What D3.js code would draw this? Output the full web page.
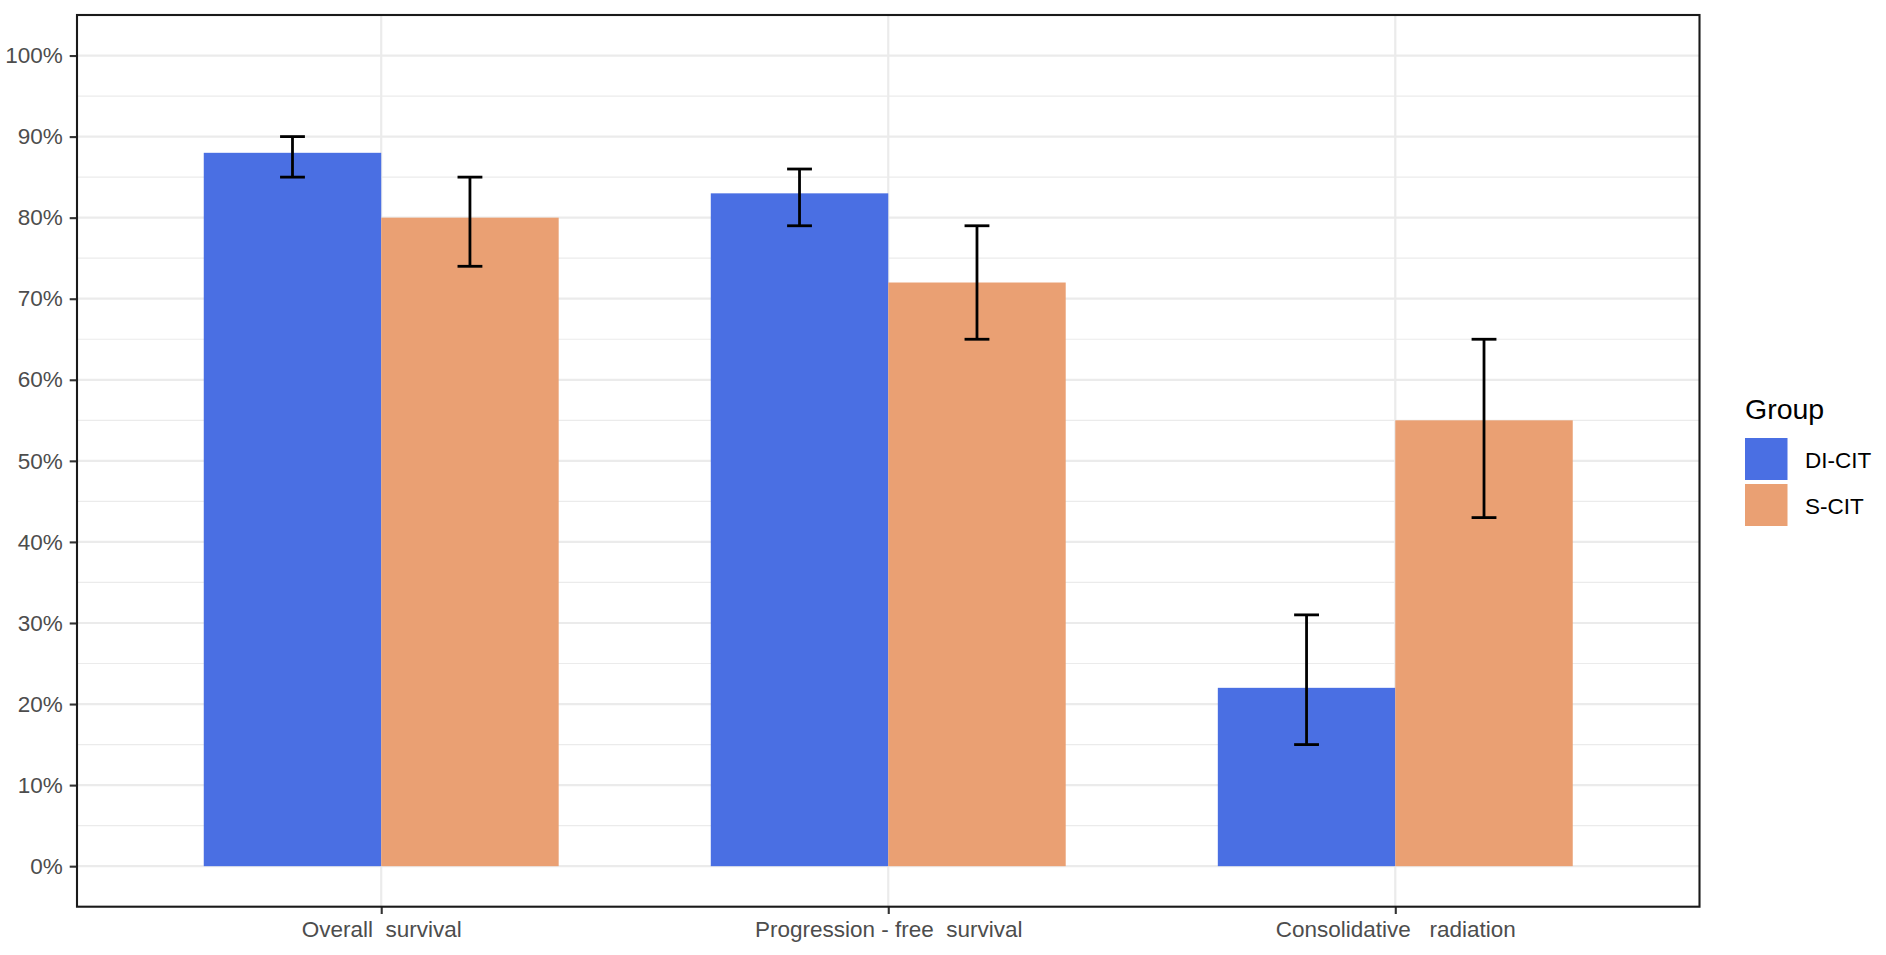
<!DOCTYPE html>
<html>
<head>
    <meta charset="utf-8">
    <title>Group comparison</title>
    <script src="https://cdnjs.cloudflare.com/ajax/libs/d3/7.8.5/d3.min.js"></script>
    <style>
        body {
            margin: 0;
            background: white;
            font-family: "Liberation Sans", Arial, sans-serif;
        }
        text { white-space: pre; }
    </style>
</head>
<body>
    <svg id="chart" width="1886" height="955"></svg>

    <script>
        // Datos
        const categories = ["Overall survival", "Progression-free survival", "Consolidative radiation"];
        const categoryLabels = ["Overall  survival", "Progression - free  survival", "Consolidative   radiation"];
        const groups = ["DI-CIT", "S-CIT"];
        const groupColors = ["#4A6FE3", "#EAA073"];
        const diCitValues = [88, 83, 22];
        const diCitLower = [85, 79, 15];
        const diCitUpper = [90, 86, 31];
        const sCitValues = [80, 72, 55];
        const sCitLower = [74, 65, 43];
        const sCitUpper = [85, 79, 65];
        const yTicks = [0, 10, 20, 30, 40, 50, 60, 70, 80, 90, 100];
        const yMinorTicks = [5, 15, 25, 35, 45, 55, 65, 75, 85, 95];

        const rows = [];
        categories.forEach((c, i) => {
            rows.push({cat: c, group: groups[0], value: diCitValues[i], lo: diCitLower[i], hi: diCitUpper[i]});
            rows.push({cat: c, group: groups[1], value: sCitValues[i], lo: sCitLower[i], hi: sCitUpper[i]});
        });

        const svg = d3.select("#chart");
        const panel = {left: 77, right: 1699.5, top: 15, bottom: 906.7};

        const x = d3.scalePoint()
            .domain(categories)
            .range([panel.left, panel.right])
            .padding(0.6);
        const step = x.step();
        const barWidth = step * 0.35;

        const xGroup = d3.scaleOrdinal()
            .domain(groups)
            .range([-barWidth / 2, barWidth / 2]);

        const color = d3.scaleOrdinal().domain(groups).range(groupColors);

        const y = d3.scaleLinear()
            .domain([-5, 105])
            .range([panel.bottom, panel.top]);

        // Rejilla
        const grid = svg.append("g");
        grid.selectAll(".minor").data(yMinorTicks).join("line")
            .attr("x1", panel.left).attr("x2", panel.right)
            .attr("y1", d => y(d)).attr("y2", d => y(d))
            .attr("stroke", "#EBEBEB").attr("stroke-width", 1.2);
        grid.selectAll(".major").data(yTicks).join("line")
            .attr("x1", panel.left).attr("x2", panel.right)
            .attr("y1", d => y(d)).attr("y2", d => y(d))
            .attr("stroke", "#EBEBEB").attr("stroke-width", 2.2);
        grid.selectAll(".vmajor").data(categories).join("line")
            .attr("x1", d => x(d)).attr("x2", d => x(d))
            .attr("y1", panel.top).attr("y2", panel.bottom)
            .attr("stroke", "#EBEBEB").attr("stroke-width", 2.2);

        // Barras
        svg.append("g").selectAll("rect").data(rows).join("rect")
            .attr("x", d => x(d.cat) + xGroup(d.group) - barWidth / 2)
            .attr("width", barWidth)
            .attr("y", d => y(d.value))
            .attr("height", d => y(0) - y(d.value))
            .attr("fill", d => color(d.group));

        // Barras de error
        const capWidth = step * 0.049;
        const errs = svg.append("g")
            .attr("stroke", "black")
            .attr("stroke-width", 2.8)
            .attr("fill", "none");
        rows.forEach(d => {
            const cx = x(d.cat) + xGroup(d.group);
            errs.append("line")
                .attr("x1", cx).attr("x2", cx)
                .attr("y1", y(d.lo)).attr("y2", y(d.hi));
            errs.append("line")
                .attr("x1", cx - capWidth / 2).attr("x2", cx + capWidth / 2)
                .attr("y1", y(d.hi)).attr("y2", y(d.hi));
            errs.append("line")
                .attr("x1", cx - capWidth / 2).attr("x2", cx + capWidth / 2)
                .attr("y1", y(d.lo)).attr("y2", y(d.lo));
        });

        // Ejes
        const yAxis = svg.append("g")
            .attr("transform", `translate(${panel.left},0)`)
            .call(d3.axisLeft(y).tickValues(yTicks).tickSize(7.3).tickPadding(7).tickFormat(d => d + "%"));
        yAxis.select(".domain").remove();
        yAxis.selectAll(".tick line").attr("stroke", "#333333").attr("stroke-width", 2.1);
        yAxis.selectAll(".tick text")
            .attr("fill", "#4D4D4D")
            .attr("font-size", "22.5px")
            .attr("font-family", "Liberation Sans, Arial, sans-serif");

        const xAxis = svg.append("g")
            .attr("transform", `translate(0,${panel.bottom})`)
            .call(d3.axisBottom(x).tickSize(7.3).tickPadding(7).tickFormat((d, i) => categoryLabels[i]));
        xAxis.select(".domain").remove();
        xAxis.selectAll(".tick line").attr("stroke", "#333333").attr("stroke-width", 2.1);
        xAxis.selectAll(".tick text")
            .attr("fill", "#4D4D4D")
            .attr("font-size", "22.5px")
            .attr("font-family", "Liberation Sans, Arial, sans-serif")
            .attr("dy", null)
            .attr("y", 30.5);

        // Marco del panel
        svg.append("rect")
            .attr("x", panel.left).attr("y", panel.top)
            .attr("width", panel.right - panel.left)
            .attr("height", panel.bottom - panel.top)
            .attr("fill", "none")
            .attr("stroke", "#1A1A1A")
            .attr("stroke-width", 2.1);

        // Leyenda
        const legend = svg.append("g").attr("transform", "translate(1745,0)");
        legend.append("text")
            .attr("x", 0).attr("y", 419)
            .attr("font-size", "28.5px")
            .attr("fill", "black")
            .text("Group");
        groups.forEach((g, i) => {
            legend.append("rect")
                .attr("x", 0).attr("y", 438 + i * 46)
                .attr("width", 42.5).attr("height", 42)
                .attr("fill", color(g));
            legend.append("text")
                .attr("x", 60).attr("y", 467.5 + i * 46)
                .attr("font-size", "22.5px")
                .attr("fill", "black")
                .text(g);
        });
    </script>
</body>
</html>
